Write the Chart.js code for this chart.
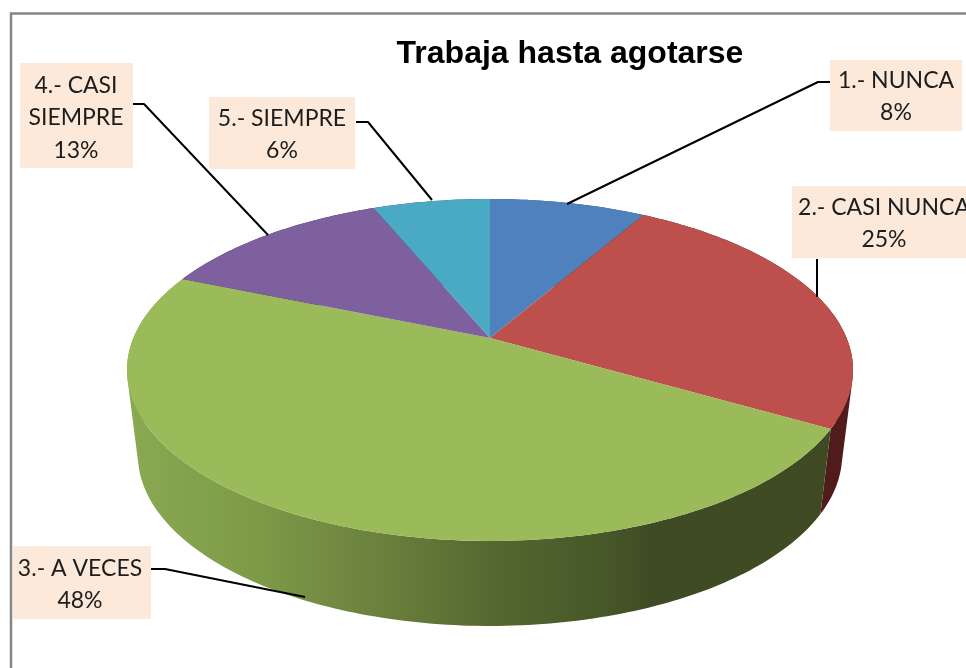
<!DOCTYPE html>
<html><head><meta charset="utf-8">
<style>html,body{margin:0;padding:0;background:#fff}canvas{display:block}</style>
<script src="https://cdn.jsdelivr.net/npm/chart.js@4"></script>
</head><body><canvas id="c" width="966" height="668"></canvas>
<script>
const titleText = 'Trabaja hasta agotarse';
const categories = ['1.- NUNCA','2.- CASI NUNCA','3.- A VECES','4.- CASI SIEMPRE','5.- SIEMPRE'];
const values = [4,12,23,6,3];
const percentLabels = ['8%','25%','48%','13%','6%'];
const topColors = ['#4f81bd','#bd4f4c','#9bba59','#7f609f','#4aa9c3'];
const sideColors = ['#27405e','#4f1c1b',null,'#403051','#255562'];

// label boxes
const boxes = [
  {x:830,y:60,w:132,h:71,cx:896,lines:['1.- NUNCA',percentLabels[0]],base:[88,120]},
  {x:792,y:186,w:174,h:72,cx:884,lines:['2.- CASI NUNCA',percentLabels[1]],base:[215,247]},
  {x:13,y:546,w:138,h:73,cx:80,lines:['3.- A VECES',percentLabels[2]],base:[576,608]},
  {x:20,y:63,w:113,h:105,cx:76,lines:['4.- CASI','SIEMPRE',percentLabels[3]],base:[93,125,158]},
  {x:209,y:97,w:146,h:72,cx:282,lines:['5.- SIEMPRE',percentLabels[4]],base:[126,158]}
];
const leaders = [
  [[830,82],[818,82],[567,204]],
  [[817,259],[817,297]],
  [[151,569],[165,569],[305,597]],
  [[133,104],[144,104],[268,235]],
  [[356,122],[368,122],[432,200]]
];

// perspective of the tilted disc
const K = {a:1.0806, b:0.5, c:-0.187, depth:85, shrink:0.97};
function topRim(el,ang){
  const u=Math.cos(ang), v=Math.sin(ang), d=1+K.c*v, r=el.outerRadius;
  return [el.x+K.a*r*u/d, el.y+K.b*r*v/d];
}
function lowRim(el,ang){
  const p=topRim(el,ang);
  return [el.x+(p[0]-el.x)*K.shrink, p[1]+K.depth];
}
function sampled(a0,a1){
  const n=Math.max(2,Math.ceil(Math.abs(a1-a0)/(Math.PI/180))), out=[];
  for(let i=0;i<=n;i++) out.push(a0+(a1-a0)*i/n);
  return out;
}

const disc3d = {
  id:'disc3d',
  beforeDatasetDraw(chart){
    const ctx=chart.ctx, arcs=chart.getDatasetMeta(0).data;
    const g=ctx.createLinearGradient(127,0,853,0);
    g.addColorStop(0,'#8aa952');
    g.addColorStop(0.18,'#7e9a48');
    g.addColorStop(0.38,'#677c3b');
    g.addColorStop(0.5,'#55682f');
    g.addColorStop(0.66,'#465729');
    g.addColorStop(0.72,'#3f4c23');
    g.addColorStop(1,'#3f4a22');
    // side walls: same-wound quads in one path, so nonzero fill gives their seamless union
    arcs.forEach((el,i)=>{
      const angs=sampled(el.startAngle,el.endAngle);
      ctx.beginPath();
      for(let k=0;k<angs.length-1;k++){
        let q=[topRim(el,angs[k]),topRim(el,angs[k+1]),lowRim(el,angs[k+1]),lowRim(el,angs[k])];
        let area=0;
        q.forEach((p,j)=>{const n=q[(j+1)%4]; area+=p[0]*n[1]-n[0]*p[1];});
        if(area<0) q.reverse();
        q.forEach((p,j)=>j?ctx.lineTo(p[0],p[1]):ctx.moveTo(p[0],p[1]));
        ctx.closePath();
      }
      ctx.fillStyle=sideColors[i]||g;
      ctx.fill('nonzero');
    });
    // top faces
    arcs.forEach((el,i)=>{
      ctx.beginPath();
      ctx.moveTo(el.x,el.y);
      sampled(el.startAngle,el.endAngle).forEach(a=>{const p=topRim(el,a); ctx.lineTo(p[0],p[1]);});
      ctx.closePath();
      ctx.fillStyle=topColors[i];
      ctx.fill();
    });
    return false;
  },
  beforeDraw(chart){
    const ctx=chart.ctx;
    ctx.save();
    ctx.fillStyle='#fff';ctx.fillRect(0,0,chart.width,chart.height);
    ctx.strokeStyle='#868686';ctx.lineWidth=2.5;
    ctx.beginPath();ctx.moveTo(11,668);ctx.lineTo(11,13.5);ctx.lineTo(966,13.5);ctx.stroke();
    ctx.restore();
  },
  afterDraw(chart){
    const ctx=chart.ctx;
    ctx.save();
    ctx.strokeStyle='#000';ctx.lineWidth=2;ctx.lineJoin='round';
    leaders.forEach(l=>{
      ctx.beginPath();
      l.forEach((p,k)=>k?ctx.lineTo(p[0],p[1]):ctx.moveTo(p[0],p[1]));
      ctx.stroke();
    });
    ctx.textAlign='center';ctx.textBaseline='alphabetic';
    boxes.forEach(b=>{
      ctx.fillStyle='#fde9d9';ctx.fillRect(b.x,b.y,b.w,b.h);
      ctx.fillStyle='#1d1d1d';ctx.font='23px Lato';
      b.lines.forEach((t,k)=>ctx.fillText(t,b.cx,b.base[k]));
    });
    ctx.fillStyle='#000';ctx.font='bold 32px "Liberation Sans"';
    ctx.fillText(titleText,570,63);
    ctx.restore();
  }
};

new Chart(document.getElementById('c'),{
  type:'pie',
  data:{labels:categories,datasets:[{data:values,backgroundColor:topColors,borderWidth:0}]},
  options:{
    responsive:false,animation:false,
    layout:{padding:{left:14,top:8}},
    plugins:{legend:{display:false},tooltip:{enabled:false},title:{display:false}}
  },
  plugins:[disc3d]
});
</script></body></html>
